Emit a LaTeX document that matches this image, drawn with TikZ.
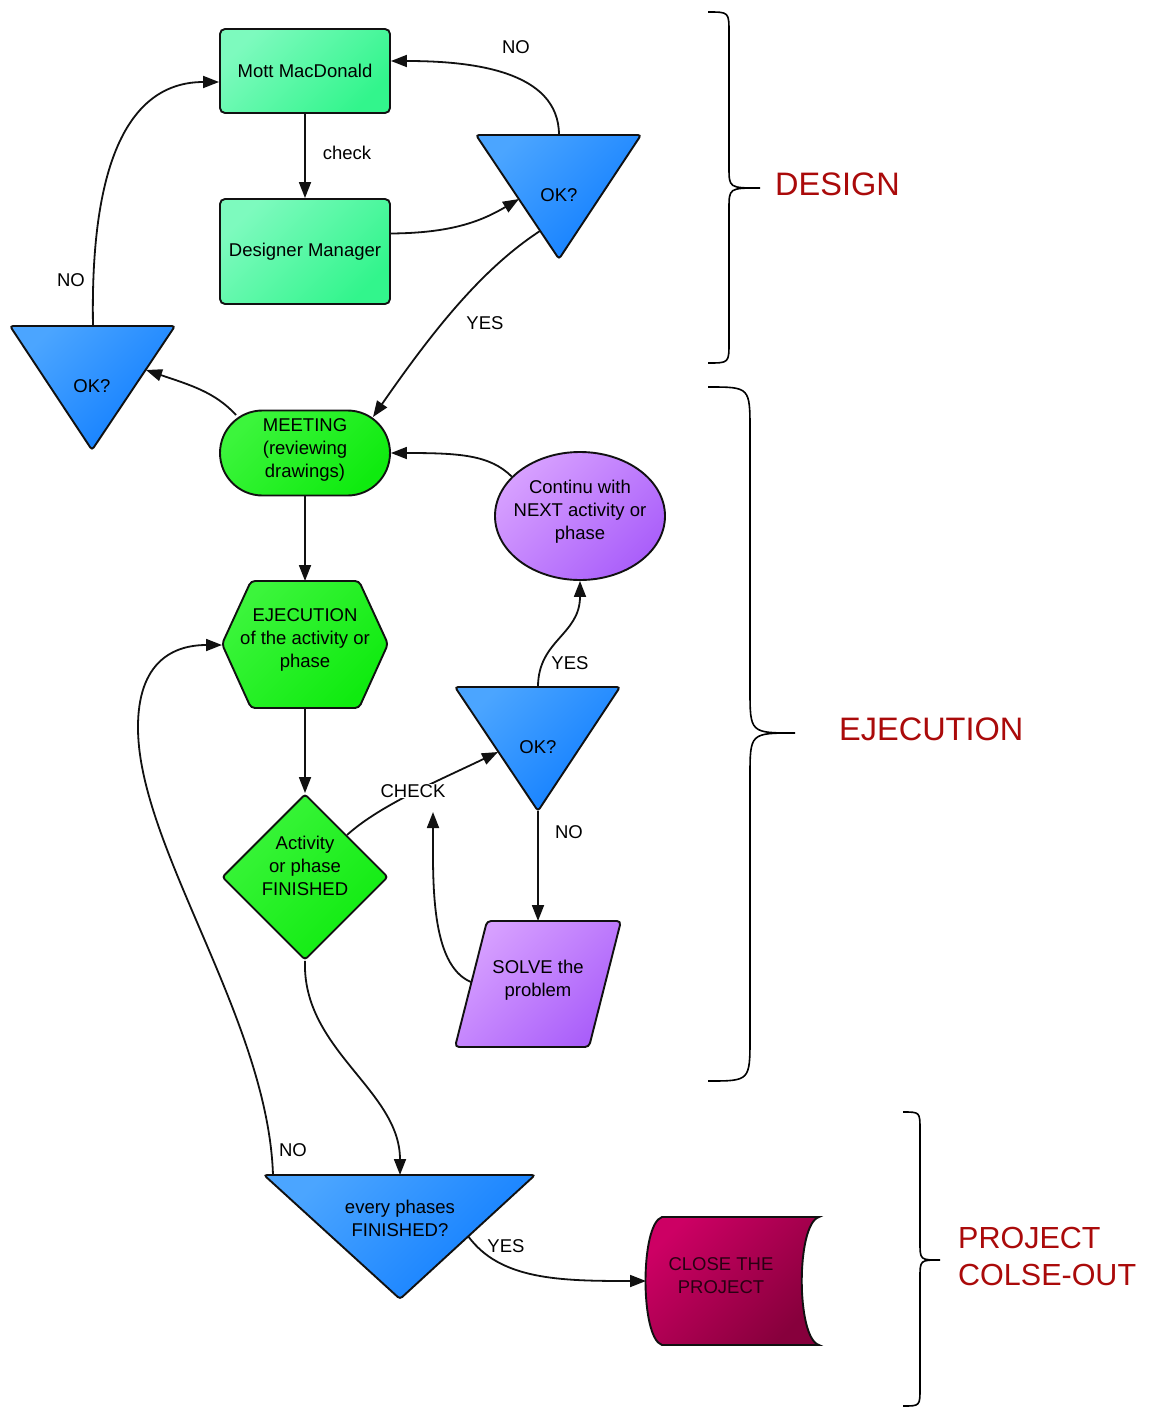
\documentclass[tikz,border=0pt]{standalone}
\usepackage{fontspec}
\setmainfont{Liberation Sans}
\usetikzlibrary{arrows.meta,shapes.geometric,shapes.misc}
\definecolor{lineC}{RGB}{17,17,17}
\definecolor{mintA}{RGB}{125,250,190}
\definecolor{mintB}{RGB}{50,245,140}
\definecolor{greenA}{RGB}{60,245,60}
\definecolor{greenB}{RGB}{15,235,15}
\definecolor{blueA}{RGB}{75,165,255}
\definecolor{blueB}{RGB}{15,125,255}
\definecolor{purpA}{RGB}{215,160,255}
\definecolor{purpB}{RGB}{170,95,250}
\definecolor{crimA}{RGB}{205,0,100}
\definecolor{crimB}{RGB}{135,0,60}
\definecolor{phaseRed}{RGB}{170,10,10}
\definecolor{closeTxt}{RGB}{40,0,18}
\newcommand{\fsz}{\fontsize{18.5pt}{23pt}\selectfont}
\newcommand{\fbig}{\fontsize{32.5pt}{37pt}\selectfont}
\newcommand{\fbigb}{\fontsize{30.5pt}{37pt}\selectfont}
\newcommand{\mybrace}[7]{%
  \draw[bracestyle] (#1,#2) .. controls (#4,#2) .. (#4,#2+#7) -- (#4,#6-#7)
    .. controls (#4,#6) .. (#5,#6) .. controls (#4,#6) .. (#4,#6+#7)
    -- (#4,#3-#7) .. controls (#4,#3) .. (#1,#3);}
\begin{document}
\begin{tikzpicture}[x=1pt,y=-1pt,
  every node/.style={font=\fsz, text=black},
  shp/.style={draw=lineC, line width=1.9pt},
  mintfill/.style={top color=mintA, bottom color=mintB, shading angle=45},
  greenfill/.style={top color=greenA, bottom color=greenB, shading angle=45},
  bluefill/.style={top color=blueA, bottom color=blueB, shading angle=45},
  purpfill/.style={top color=purpA, bottom color=purpB, shading angle=45},
  crimfill/.style={top color=crimA, bottom color=crimB, shading angle=45},
  rectbox/.style={shp, mintfill, rounded corners=5pt, minimum width=170pt, inner sep=0pt},
  tri/.style={shp, bluefill, rounded corners=3pt},
  txt/.style={align=center, inner sep=1pt},
  conn/.style={draw=lineC, line width=1.8pt, -{Triangle[length=16pt,width=12pt]}},
  lbl/.style={inner sep=1pt},
  phase/.style={font=\fbig, text=phaseRed, anchor=west, align=left, inner sep=0pt},
  bracestyle/.style={draw=black, line width=1.6pt}
]
\useasboundingbox (0,0) rectangle (1149,1408);

% ---------- shapes ----------
\node[rectbox, minimum height=84pt] (mott) at (305,71) {Mott MacDonald};
\node[rectbox, minimum height=105pt] (dm) at (305,251.5) {Designer Manager};

% OK? (design)
\draw[tri] (476,135) -- (641,135) -- (559,259) -- cycle;
\node[txt] (ok1) at (559,195) {OK?};
\coordinate (ok1top) at (559,135);
\coordinate (ok1in) at (519,199);
\coordinate (ok1out) at (540,231);

% OK? (left)
\draw[tri] (10,326) -- (175,326) -- (92,450) -- cycle;
\node[txt] (ok2) at (92,386) {OK?};
\coordinate (ok2top) at (93,326);
\coordinate (ok2in) at (146,370);

% MEETING
\node[shp, greenfill, rounded rectangle, minimum width=170pt, minimum height=85pt, inner sep=0pt] (meet) at (305,453) {};
\node[txt] (meettxt) at (305,450) {MEETING\\(reviewing\\drawings)};
\coordinate (meetUR) at (373,417);
\coordinate (meetUL) at (236,415);

% Continu ellipse
\node[shp, purpfill, ellipse, minimum width=170pt, minimum height=128pt, inner sep=0pt] (cont) at (580,516) {};
\node[txt] (conttxt) at (580,512) {Continu with\\NEXT activity or\\phase};

% EJECUTION hexagon
\draw[shp, greenfill, rounded corners=4pt] (251,581) -- (359,581) -- (388,644) -- (359,708) -- (251,708) -- (222,644) -- cycle;
\node[txt] (ejtxt) at (305,640) {EJECUTION\\of the activity or\\phase};
\coordinate (hexT) at (305,581);
\coordinate (hexB) at (305,708);
\coordinate (hexL) at (222,645);

% Diamond
\node[shp, greenfill, diamond, rounded corners=3pt, minimum width=166pt, minimum height=166pt, inner sep=0pt] (fin) at (305,877) {};
\node[txt] (fintxt) at (305,866) {Activity\\or phase\\FINISHED};

% OK? (ejecution)
\draw[tri] (455,687) -- (620,687) -- (538,811) -- cycle;
\node[txt] (ok3) at (538,747) {OK?};
\coordinate (ok3top) at (538,687);
\coordinate (ok3bot) at (538,811);
\coordinate (ok3in) at (498,752);

% SOLVE parallelogram
\draw[shp, purpfill, rounded corners=4pt] (487,921) -- (621,921) -- (589,1047) -- (455,1047) -- cycle;
\node[txt] (solvetxt) at (538,980) {SOLVE the\\problem};
\coordinate (solveT) at (538,921);
\coordinate (solveL) at (471,982);
\coordinate (chk) at (433,812);

% every phases
\draw[tri] (264,1175) -- (535,1175) -- (400,1299) -- cycle;
\node[txt] (ok4) at (400,1218) {every phases\\FINISHED?};
\coordinate (ok4top) at (400,1175);
\coordinate (ok4no) at (273,1175);
\coordinate (ok4yes) at (468,1236);

% CLOSE THE PROJECT
\draw[shp, crimfill] (662,1217) -- (819,1217) .. controls (796,1224) and (796,1338) .. (819,1345)
   -- (662,1345) .. controls (640,1338) and (640,1224) .. (662,1217) -- cycle;
\node[txt, text=closeTxt] (closetxt) at (721,1276) {CLOSE THE\\PROJECT};
\coordinate (closeIn) at (646,1281);

% ---------- connectors ----------
\draw[conn] (mott.south) -- (dm.north);
\node[lbl] (lcheck) at (347,153) {check};

\draw[conn] ([yshift=18pt]dm.east) .. controls (450,233) and (480,222) .. (ok1in);

\draw[conn] (ok1top) .. controls (559,70) and (470,61) .. ([yshift=10pt]mott.east);
\node[lbl] (lno1) at (516,47) {NO};

\draw[conn] (ok1out) .. controls (480,270) and (430,335) .. (meetUR);
\node[lbl] (lyes1) at (485,323) {YES};

\draw[conn] (meetUL) .. controls (215,392) and (190,385) .. (ok2in);

\draw[conn] (ok2top) .. controls (90,160) and (130,82) .. ([yshift=-11pt]mott.west);
\node[lbl] (lno2) at (71,280) {NO};

\draw[conn] (cont.150) .. controls (490,455) and (460,453) .. (meet.east);

\draw[conn] (meet.south) -- (hexT);
\draw[conn] (hexB) -- (fin.north);

\draw[conn] (fin.north east) .. controls (380,805) and (440,780) .. (ok3in);
\node[lbl, fill=white, inner sep=0.5pt] (lcheck2) at (413,791) {CHECK};

\draw[conn] (ok3top) .. controls (538,640) and (580,635) .. (cont.south);
\node[lbl] (lyes2) at (570,663) {YES};

\draw[conn] (ok3bot) -- (solveT);
\node[lbl] (lno3) at (569,832) {NO};

\draw[conn] (solveL) .. controls (430,965) and (433,880) .. (chk);

\draw[conn] (fin.south) .. controls (302,1050) and (400,1090) .. (ok4top);

\draw[conn] (ok4no) .. controls (268,1020) and (140,850) .. (138,730) .. controls (137,660) and (175,645) .. (hexL);
\node[lbl] (lno4) at (293,1150) {NO};

\draw[conn] (ok4yes) .. controls (500,1280) and (560,1281) .. (closeIn);
\node[lbl] (lyes3) at (506,1246) {YES};

% ---------- braces & phase labels ----------
\mybrace{708}{12}{363}{729}{760}{188}{21}
\node[phase] (pdesign) at (775,184) {DESIGN};
\mybrace{708}{387}{1081}{750}{795}{733}{44}
\node[phase] (pejec) at (839,729) {EJECUTION};
\mybrace{903}{1112}{1406}{920}{940}{1260}{18}
\node[phase, font=\fbigb] (pclose) at (958,1256) {PROJECT\\COLSE-OUT};
\end{tikzpicture}
\end{document}
